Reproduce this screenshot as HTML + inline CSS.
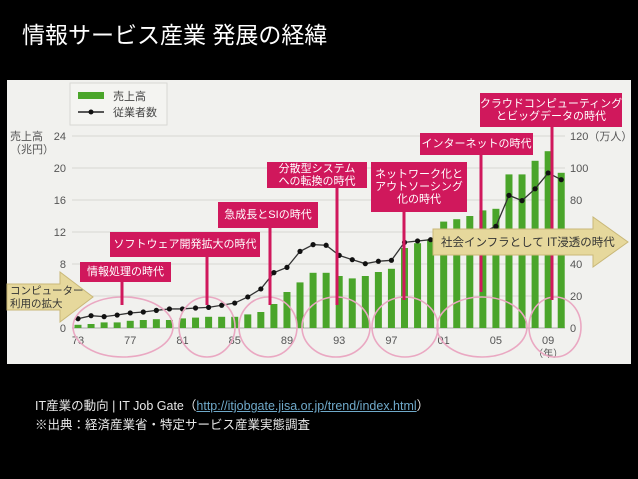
<!DOCTYPE html>
<html><head><meta charset="utf-8">
<style>
html,body{margin:0;padding:0;background:#000;width:638px;height:479px;overflow:hidden}
body{font-family:"Liberation Sans","Noto Sans CJK JP",sans-serif;position:relative}
#title{position:absolute;left:22px;top:16px;color:#fff;font-size:23px;letter-spacing:0px;white-space:nowrap}
.src{position:absolute;left:35px;color:#e8e8e8;font-size:12.5px;white-space:nowrap}
.url{color:#6fa9c9;text-decoration:underline}
svg{position:absolute;left:0;top:0}
</style></head><body>
<div id="title">情報サービス産業 発展の経緯</div>
<svg id="chart" width="638" height="479"></svg>
<div class="src" style="top:395px">IT産業の動向 | IT Job Gate（<span class="url">http://itjobgate.jisa.or.jp/trend/index.html</span>）</div>
<div class="src" style="top:414px">※出典：経済産業省・特定サービス産業実態調査</div>
<script>
const years=[73,74,75,76,77,78,79,80,81,82,83,84,85,86,87,88,89,90,91,92,93,94,95,96,97,98,99,100,101,102,103,104,105,106,107,108,109,110];
const sales=[0.4,0.5,0.7,0.7,0.9,1.0,1.1,1.0,1.2,1.3,1.4,1.4,1.4,1.7,2.0,3.0,4.5,5.7,6.9,6.9,6.5,6.2,6.5,7.0,7.4,10.0,10.6,11.1,13.3,13.6,14.0,14.7,14.9,19.2,19.2,20.9,22.1,19.4];
const workers=[5.8,7.7,7.1,8.1,9.4,10,11,11.9,11.9,12.5,12.9,14.2,15.6,19.4,24.4,34.6,37.9,47.9,52.1,51.7,45.4,42.7,40.2,41.7,42.3,53.5,54.4,55.2,56,57,58,60,63.5,82.9,79.6,87,96.9,92.7];
const leftTicks=[0,4,8,12,16,20,24];
const rightTicks=[0,20,40,60,80,100,120];
const xTicks=[73,77,81,85,89,93,97,101,105,109];
const xTickLabels=["73","77","81","85","89","93","97","01","05","09"];

const NS="http://www.w3.org/2000/svg";
const svg=document.getElementById('chart');
function mk(tag,attrs,parent){const e=document.createElementNS(NS,tag);for(const k in attrs)e.setAttribute(k,attrs[k]);(parent||svg).appendChild(e);return e;}
const X=y=>78+(y-73)*13.06;
const YL=v=>328-v*8;
const YR=v=>328-v*1.6;
const F='"Liberation Sans","Noto Sans CJK JP",sans-serif';

let bg=mk('rect',{x:7,y:80,width:624,height:284,fill:'#f1f1ee'});



// grid
leftTicks.forEach(t=>{
 let g=mk('line',{x1:72,x2:565,y1:YL(t),y2:YL(t),stroke:t===0?'#aaa':'#d6d6d2','stroke-width':1});
 
 
 let l=mk('text',{x:66,y:YL(t)+4,'text-anchor':'end','font-size':11,fill:'#555','font-family':F});
 l.textContent=t;
 
 
});
rightTicks.forEach(t=>{
 let l=mk('text',{x:570,y:YR(t)+4,'font-size':11,fill:'#555','font-family':F});
 l.textContent=t+(t===120?'（万人）':'');
 
 
});
xTicks.forEach((t,i)=>{
 let l=mk('text',{x:X(t),y:344,'text-anchor':'middle','font-size':11,fill:'#555','font-family':F});
 l.textContent=xTickLabels[i];
 
 
});
let yr=mk('text',{x:X(109),y:357,'text-anchor':'middle','font-size':10,fill:'#555','font-family':F});yr.textContent='（年）';


let lt=mk('text',{x:10,y:140,'font-size':11,fill:'#555','font-family':F});lt.textContent='売上高';


let lt2=mk('text',{x:10,y:153,'font-size':11,fill:'#555','font-family':F});lt2.textContent='（兆円）';



// bars
years.forEach((y,i)=>{
 let b=mk('rect',{x:X(y)-3.5,y:YL(sales[i]),width:7,height:sales[i]*8,fill:'#4aa52a'});
 
 
});
// line
let pts=years.map((y,i)=>X(y)+','+YR(workers[i])).join(' ');
let pl=mk('polyline',{points:pts,fill:'none',stroke:'#333','stroke-width':1.3});


years.forEach((y,i)=>{
 let c=mk('circle',{cx:X(y),cy:YR(workers[i]),r:2.6,fill:'#111'});
 
 
});

// ellipses
[[123,327,50,30],[207,327,28,30],[268,327,29,30],[336,327,34,30],[405,327,33,30],[482,327,45,30],[555,327,26,30]].forEach(e=>{
 let el=mk('ellipse',{cx:e[0],cy:e[1],rx:e[2],ry:e[3],fill:'none',stroke:'#eaa8c2','stroke-width':1.6});
 
 
});

// legend
let lg=mk('rect',{x:70,y:83,width:97,height:42,fill:'#f4f4f1',stroke:'#d8d8d4'});


let ls=mk('rect',{x:78,y:92,width:26,height:7,fill:'#4aa52a'});


let lt3=mk('text',{x:113,y:100,'font-size':11,fill:'#444','font-family':F});lt3.textContent='売上高';


mk('line',{x1:78,x2:104,y1:112,y2:112,stroke:'#222','stroke-width':1.5});
mk('circle',{cx:91,cy:112,r:2.5,fill:'#111'});
let lt4=mk('text',{x:113,y:116,'font-size':11,fill:'#444','font-family':F});lt4.textContent='従業者数';



// arrows
let a1=mk('polygon',{points:'7,284 60,284 60,272 93,297 60,322 60,310 7,310',fill:'#e6d89c',stroke:'#c9b878'});


let at1=mk('text',{x:10,y:294,'font-size':10.5,fill:'#333','font-family':F});at1.textContent='コンピューター';


let at2=mk('text',{x:10,y:307,'font-size':10.5,fill:'#333','font-family':F});at2.textContent='利用の拡大';



// callouts (pointer lines)
const M='#d0185c';
[[122,282,305],[207,257,305],[270,228,305],[337,188,305],[404,212,300],[481,155,292],[552,127,300]].forEach(p=>{
 let l=mk('line',{x1:p[0],x2:p[0],y1:p[1],y2:p[2],stroke:M,'stroke-width':3});
 
 
});
let a2=mk('polygon',{points:'433,229 593,229 593,217 628,242 593,267 593,255 433,255',fill:'#e6d89c',stroke:'#c9b878'});


let at3=mk('text',{x:441,y:246,'font-size':11.5,fill:'#333','font-family':F});at3.textContent='社会インフラとして IT浸透の時代';



function box(x,y,w,h,lines,fs){
 let r=mk('rect',{x:x,y:y,width:w,height:h,fill:M});
 
 
 const n=lines.length, lh=fs+1.5, top=y+h/2-(n*lh)/2+fs*0.85;
 lines.forEach((s,i)=>{
  let t=mk('text',{x:x+w/2,y:top+i*lh,'text-anchor':'middle','font-size':fs,fill:'#fff','font-family':F});
  t.textContent=s;
  
  
 });
}
box(80,262,91,20,['情報処理の時代'],11);
box(110,232,150,25,['ソフトウェア開発拡大の時代'],11);
box(218,202,100,26,['急成長とSIの時代'],11);
box(267,162,100,26,['分散型システム','への転換の時代'],11);
box(371,162,96,50,['ネットワーク化と','アウトソーシング','化の時代'],11);
box(420,133,113,22,['インターネットの時代'],11);
box(480,93,142,34,['クラウドコンピューティング','とビッグデータの時代'],11);
</script>
</body></html>
